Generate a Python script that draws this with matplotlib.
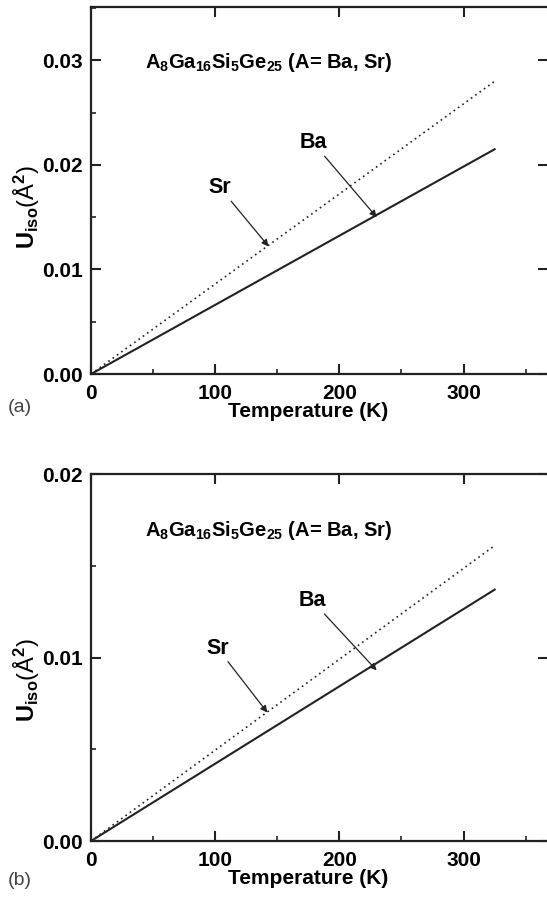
import matplotlib
matplotlib.use("Agg")
import matplotlib.pyplot as plt
from matplotlib.ticker import MultipleLocator
import numpy as np

plt.rcParams['font.family'] = ['Liberation Sans', 'DejaVu Sans']
plt.rcParams['mathtext.fontset'] = 'custom'
plt.rcParams['mathtext.rm'] = 'Liberation Sans'
plt.rcParams['mathtext.bf'] = 'Liberation Sans:bold'
plt.rcParams['mathtext.default'] = 'bf'

# data: straight-line fits of Uiso vs T
temp = [0, 325]
ba_a = [0.0, 0.0215]
sr_a = [0.0, 0.0280]
ba_b = [0.0, 0.0137]
sr_b = [0.0, 0.0161]

title_txt = r'A$_8$Ga$_{16}$Si$_5$Ge$_{25}$ (A= Ba, Sr)'
ylab = r'U$_{iso}\mathrm{(Å}^{2}\mathrm{)}$'

fig = plt.figure(figsize=(5.47, 9.05), dpi=100)
ax1 = fig.add_axes([0.1664, 0.5867, 0.8355, 0.4055])
ax2 = fig.add_axes([0.1664, 0.0707, 0.8355, 0.4055])


def style(ax, ymax, ymaj, ylab_y):
    ax.set_xlim(0, 368)
    ax.set_ylim(0, ymax)
    ax.xaxis.set_major_locator(MultipleLocator(100))
    ax.xaxis.set_minor_locator(MultipleLocator(50))
    ax.yaxis.set_major_locator(MultipleLocator(ymaj))
    ax.yaxis.set_minor_locator(MultipleLocator(ymaj / 2))
    ax.yaxis.set_major_formatter(matplotlib.ticker.FormatStrFormatter('%.2f'))
    for s in ax.spines.values():
        s.set_linewidth(1.6)
        s.set_color('#222222')
    ax.tick_params(which='major', direction='in', length=7, width=1.5,
                   top=True, right=True, labelsize=15, color='#222222')
    ax.tick_params(axis='x', which='major', pad=7)
    ax.tick_params(axis='y', which='major', pad=6)
    ax.tick_params(which='minor', direction='in', length=3.5, width=1.2,
                   top=False, right=False, color='#222222')
    for lab in ax.get_xticklabels() + ax.get_yticklabels():
        lab.set_fontweight('bold')
    ax.set_xlabel('Temperature (K)', fontsize=15, fontweight='bold')
    ax.xaxis.set_label_coords(0.475, -0.075)
    ax.set_ylabel(ylab, fontsize=17, fontweight='bold')
    ax.yaxis.set_label_coords(-0.107, ylab_y)


style(ax1, 0.0351, 0.01, 0.455)
style(ax2, 0.02, 0.01, 0.44)

for ax, ba, sr in [(ax1, ba_a, sr_a), (ax2, ba_b, sr_b)]:
    ax.plot(temp, ba, color='#222222', lw=1.5, linestyle='-')
    ax.plot(temp, sr, color='#222222', lw=1.2, linestyle=(0, (1, 2.2)))

arr = dict(arrowstyle='-|>', color='#222222', lw=0.9, mutation_scale=10,
           shrinkA=0, shrinkB=0)

ax1.text(0.118, 0.85, title_txt, transform=ax1.transAxes, fontsize=14.5,
         fontweight='bold', va='center')
ax1.annotate('Sr', xy=(143, 0.0122), xytext=(104, 0.0178), fontsize=15.5,
             fontweight='bold', ha='center', va='center', arrowprops=arr)
ax1.annotate('Ba', xy=(230, 0.0150), xytext=(179, 0.0221), fontsize=15.5,
             fontweight='bold', ha='center', va='center', arrowprops=arr)

ax2.text(0.118, 0.845, title_txt, transform=ax2.transAxes, fontsize=14.5,
         fontweight='bold', va='center')
ax2.annotate('Sr', xy=(142, 0.0070), xytext=(102, 0.0105), fontsize=15.5,
             fontweight='bold', ha='center', va='center', arrowprops=arr)
ax2.annotate('Ba', xy=(230, 0.0093), xytext=(178, 0.0131), fontsize=15.5,
             fontweight='bold', ha='center', va='center', arrowprops=arr)

fig.text(8 / 547, 1 - 407 / 905, '(a)', fontsize=14, color='#444444', va='center')
fig.text(8 / 547, 1 - 880 / 905, '(b)', fontsize=14, color='#444444', va='center')

fig.savefig('out.png', dpi=100)
